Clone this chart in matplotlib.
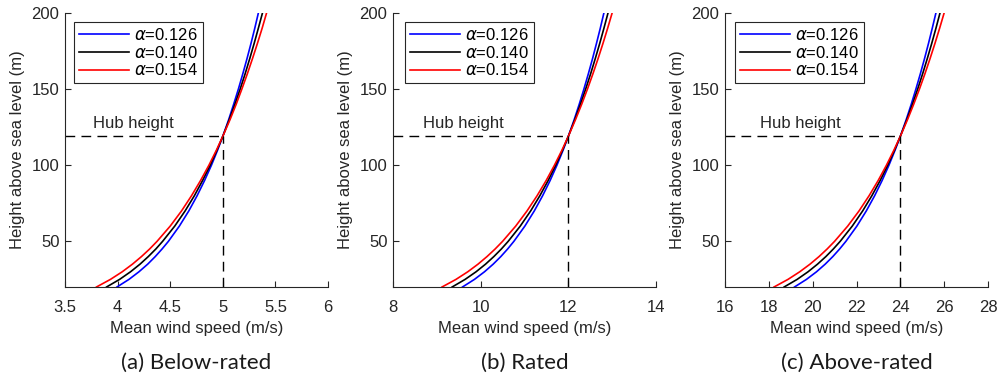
import matplotlib
matplotlib.use("Agg")
import matplotlib.pyplot as plt

plt.rcParams['font.family'] = ['Liberation Sans', 'DejaVu Sans']
plt.rcParams['mathtext.fontset'] = 'custom'
plt.rcParams['mathtext.it'] = 'DejaVu Sans:italic'

# heights (m) at which the profiles are sampled
heights = [20, 25, 30, 35, 40, 45, 50, 60, 70, 80, 90, 100, 110, 119,
           130, 140, 150, 160, 170, 180, 190, 200]
hub_height = 119
alpha_labels = ['0.126', '0.140', '0.154']
line_colors = ['#0000ff', '#000000', '#ff0000']

# (a) below-rated, hub speed 5 m/s
below_126 = [3.994, 4.108, 4.203, 4.286, 4.358, 4.423, 4.483, 4.587, 4.677, 4.756, 4.827, 4.892,
             4.951, 5.000, 5.056, 5.103, 5.148, 5.190, 5.230, 5.268, 5.304, 5.338]
below_140 = [3.895, 4.019, 4.123, 4.213, 4.292, 4.364, 4.428, 4.543, 4.642, 4.730, 4.808, 4.880,
             4.945, 5.000, 5.062, 5.115, 5.165, 5.212, 5.256, 5.298, 5.338, 5.377]
below_154 = [3.799, 3.932, 4.044, 4.141, 4.227, 4.305, 4.375, 4.500, 4.608, 4.703, 4.789, 4.868,
             4.940, 5.000, 5.069, 5.127, 5.181, 5.233, 5.282, 5.329, 5.374, 5.416]

# (b) rated, hub speed 12 m/s
rated_126 = [9.585, 9.858, 10.087, 10.285, 10.460, 10.616, 10.758, 11.008, 11.224, 11.414, 11.585,
             11.740, 11.882, 12.000, 12.134, 12.248, 12.355, 12.456, 12.552, 12.642, 12.729, 12.811]
rated_140 = [9.349, 9.645, 9.895, 10.111, 10.301, 10.473, 10.628, 10.903, 11.141, 11.351, 11.540,
             11.711, 11.869, 12.000, 12.149, 12.276, 12.395, 12.508, 12.614, 12.716, 12.812, 12.905]
rated_154 = [9.118, 9.437, 9.706, 9.939, 10.145, 10.331, 10.500, 10.799, 11.058, 11.288, 11.495,
             11.683, 11.856, 12.000, 12.164, 12.304, 12.436, 12.560, 12.678, 12.790, 12.897, 12.999]

# (c) above-rated, hub speed 24 m/s
above_126 = [19.170, 19.717, 20.175, 20.571, 20.920, 21.232, 21.516, 22.016, 22.448, 22.829, 23.170,
             23.480, 23.763, 24.000, 24.269, 24.497, 24.710, 24.912, 25.103, 25.285, 25.457, 25.623]
above_140 = [18.697, 19.291, 19.789, 20.221, 20.603, 20.945, 21.256, 21.806, 22.282, 22.702, 23.080,
             23.423, 23.737, 24.000, 24.299, 24.552, 24.791, 25.016, 25.229, 25.432, 25.625, 25.809]
above_154 = [18.236, 18.874, 19.411, 19.878, 20.291, 20.662, 21.000, 21.598, 22.117, 22.576, 22.990,
             23.366, 23.711, 24.000, 24.329, 24.608, 24.871, 25.120, 25.355, 25.579, 25.793, 25.998]

hub_speeds = [5, 12, 24]
x_limits = [(3.5, 6), (8, 14), (16, 28)]
x_ticks = [[3.5, 4, 4.5, 5, 5.5, 6], [8, 10, 12, 14], [16, 18, 20, 22, 24, 26, 28]]
x_ticklabels = [['3.5', '4', '4.5', '5', '5.5', '6'], ['8', '10', '12', '14'],
                ['16', '18', '20', '22', '24', '26', '28']]
hub_text_x = [3.766, 8.68, 17.6]
captions = ['(a) Below-rated', '(b) Rated', '(c) Above-rated']
profiles = [
    [below_126, below_140, below_154],
    [rated_126, rated_140, rated_154],
    [above_126, above_140, above_154],
]
legend_x = [0.034, 0.046, 0.038]

fig = plt.figure(figsize=(9.97, 3.82), dpi=100)
lefts = [65, 393, 725]
W, H = 997, 382
ax_w, ax_top, ax_bot = 263, 13, 287
fs = 12
ink = '#262626'

for k in range(3):
    ax = fig.add_axes([lefts[k] / W, 1 - ax_bot / H, ax_w / W, (ax_bot - ax_top) / H])
    for j in range(3):
        ax.plot(profiles[k][j], heights, color=line_colors[j], lw=1.2,
                label=r'$\alpha$=' + alpha_labels[j])
    hs = hub_speeds[k]
    # hub height guide lines
    ax.plot([x_limits[k][0], hs], [hub_height, hub_height], color='k', lw=1.0,
            dashes=(7, 4.5))
    ax.plot([hs, hs], [20, hub_height], color='k', lw=1.0, dashes=(7, 4.5))
    ax.text(hub_text_x[k], hub_height + 5.5, 'Hub height', fontsize=fs, va='baseline',
            ha='left', color=ink)

    ax.set_xlim(*x_limits[k])
    ax.set_ylim(20, 200)
    ax.set_xticks(x_ticks[k])
    ax.set_xticklabels(x_ticklabels[k])
    ax.set_yticks([50, 100, 150, 200])
    ax.tick_params(direction='in', length=4, width=0.8, labelsize=fs, colors=ink,
                   labelcolor=ink)
    ax.tick_params(axis='x', pad=9)
    ax.tick_params(axis='y', pad=4)
    for s in ['top', 'right']:
        ax.spines[s].set_visible(False)
    for s in ['left', 'bottom']:
        ax.spines[s].set_color(ink)
        ax.spines[s].set_linewidth(0.8)
    ax.set_xlabel('Mean wind speed (m/s)', fontsize=fs, color=ink, labelpad=5)
    ax.set_ylabel('Height above sea level (m)', fontsize=fs, color=ink, labelpad=5)

    leg = ax.legend(loc='upper left', bbox_to_anchor=(legend_x[k], 0.967), fontsize=fs,
                    fancybox=False, edgecolor=ink, framealpha=1,
                    handlelength=3.0, handletextpad=0.3, borderpad=0.3,
                    labelspacing=0.1, borderaxespad=0)
    leg.get_frame().set_linewidth(0.8)

    fig.text((lefts[k] + ax_w / 2) / W, 1 - 363 / H, captions[k], fontsize=16,
             family=['Lato', 'DejaVu Sans'], ha='center', va='center', color='#1a1a1a')

fig.savefig('out.png', dpi=100)
